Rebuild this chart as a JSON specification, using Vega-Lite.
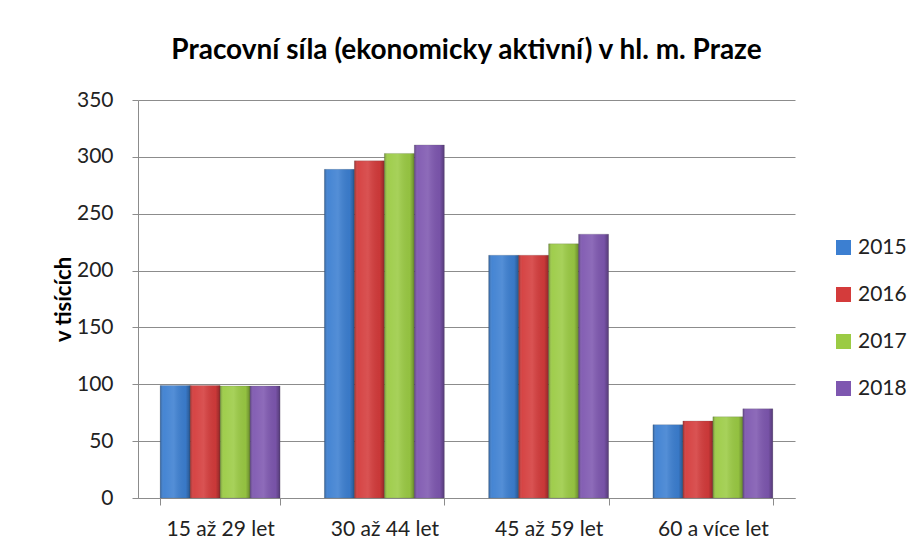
{
  "$schema": "https://vega.github.io/schema/vega-lite/v6.json",
  "autosize": {"type": "none"},
  "width": 657,
  "height": 398,
  "padding": {"left": 138, "top": 100, "right": 124, "bottom": 60},
  "background": "white",
  "title": {
    "text": "Pracovní síla (ekonomicky aktivní) v hl. m. Praze",
    "font": "Lato",
    "fontSize": 28,
    "fontWeight": "bold",
    "color": "#000000",
    "anchor": "middle",
    "offset": 24
  },
  "config": {
    "font": "Lato",
    "view": {"stroke": null},
    "axis": {"labelFont": "Lato", "titleFont": "Lato"}
  },
  "data": {
    "values": [
      {"vek": "15 až 29 let", "rok": "2015", "hodnota": 99},
      {"vek": "15 až 29 let", "rok": "2016", "hodnota": 99},
      {"vek": "15 až 29 let", "rok": "2017", "hodnota": 98.5},
      {"vek": "15 až 29 let", "rok": "2018", "hodnota": 98.5},
      {"vek": "30 až 44 let", "rok": "2015", "hodnota": 289},
      {"vek": "30 až 44 let", "rok": "2016", "hodnota": 296.5},
      {"vek": "30 až 44 let", "rok": "2017", "hodnota": 303},
      {"vek": "30 až 44 let", "rok": "2018", "hodnota": 310.5},
      {"vek": "45 až 59 let", "rok": "2015", "hodnota": 213.5},
      {"vek": "45 až 59 let", "rok": "2016", "hodnota": 213.5},
      {"vek": "45 až 59 let", "rok": "2017", "hodnota": 223.5},
      {"vek": "45 až 59 let", "rok": "2018", "hodnota": 232},
      {"vek": "60 a více let", "rok": "2015", "hodnota": 64.5},
      {"vek": "60 a více let", "rok": "2016", "hodnota": 67.7},
      {"vek": "60 a více let", "rok": "2017", "hodnota": 71.4},
      {"vek": "60 a více let", "rok": "2018", "hodnota": 78.4}
    ]
  },
  "encoding": {
    "x": {
      "field": "vek",
      "type": "nominal",
      "sort": null,
      "scale": {"paddingInner": 0.27, "paddingOuter": 0.135},
      "axis": {
        "title": null,
        "labelAngle": 0,
        "labelFontSize": 21,
        "labelColor": "#222222",
        "labelPadding": 13,
        "tickBand": "extent",
        "tickSize": 7,
        "tickColor": "#8c8c8c",
        "domainColor": "#8c8c8c",
        "grid": false
      }
    },
    "xOffset": {"field": "rok", "type": "nominal", "scale": {"paddingInner": 0, "paddingOuter": 0}},
    "y": {
      "field": "hodnota",
      "type": "quantitative",
      "scale": {"domain": [0, 350]},
      "axis": {
        "title": "v tisících",
        "titleFontSize": 22,
        "titleFontWeight": "bold",
        "titleColor": "#000000",
        "titlePadding": 1,
        "values": [0, 50, 100, 150, 200, 250, 300, 350],
        "labelFontSize": 21,
        "labelColor": "#222222",
        "labelPadding": 19,
        "tickSize": 6,
        "tickColor": "#8c8c8c",
        "domainColor": "#8c8c8c",
        "gridColor": "#8c8c8c",
        "gridWidth": 1
      }
    }
  },
  "layer": [
    {
      "mark": {"type": "bar", "stroke": "#555555", "strokeOpacity": 0.35, "strokeWidth": 0.6},
      "encoding": {
        "color": {
          "field": "rok",
          "type": "nominal",
          "scale": {"range": ["#3c7fd1", "#d43b3b", "#9bcb44", "#7e57b0"]},
          "legend": {
            "title": null,
            "orient": "none",
            "legendX": 695,
            "legendY": 137,
            "symbolType": "square",
            "symbolSize": 225,
            "symbolStrokeWidth": 0,
            "labelFontSize": 21,
            "labelColor": "#222222",
            "labelOffset": 4,
            "rowPadding": 25
          }
        }
      }
    },
    {
      "mark": {
        "type": "bar",
        "fill": {
          "gradient": "linear",
          "x1": 0, "y1": 0, "x2": 1, "y2": 0,
          "stops": [
            {"offset": 0, "color": "rgba(0,0,0,0.28)"},
            {"offset": 0.12, "color": "rgba(255,255,255,0.05)"},
            {"offset": 0.45, "color": "rgba(255,255,255,0.12)"},
            {"offset": 0.85, "color": "rgba(0,0,0,0.05)"},
            {"offset": 1, "color": "rgba(0,0,0,0.32)"}
          ]
        }
      },
      "encoding": {}
    }
  ]
}
